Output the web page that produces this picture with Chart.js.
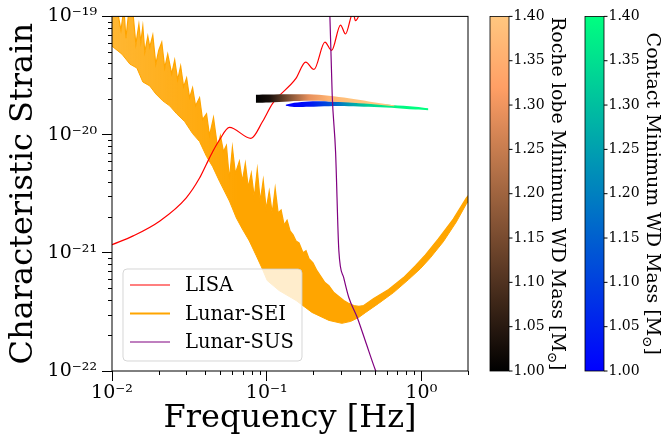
<!DOCTYPE html>
<html>
<head>
<meta charset="utf-8">
<script src="https://cdn.jsdelivr.net/npm/chart.js@4.4.1/dist/chart.umd.min.js"></script>
<style>
  html, body { margin: 0; padding: 0; background: #fff; }
</style>
</head>
<body>
<canvas id="chart" width="662" height="438"></canvas>
<script>
// LISA sensitivity curve
const lisaFreq = [0.0100, 0.0137, 0.0204, 0.0302, 0.0368, 0.0406, 0.0448, 0.0495, 0.0574, 0.0791, 0.0940, 0.1090,
  0.1541, 0.1787, 0.2021, 0.2378, 0.2627, 0.3000, 0.3230, 0.3620, 0.3746, 0.4200];
const lisaStrain = [1.17e-21, 1.39e-21, 1.86e-21, 2.92e-21, 4.29e-21, 5.56e-21, 7.19e-21, 9.0e-21, 1.15e-20, 9.30e-21, 1.29e-20, 1.83e-20,
  2.97e-20, 4.10e-20, 3.56e-20, 6.05e-20, 5.15e-20, 8.45e-20, 7.10e-20, 1.08e-19, 9.20e-20, 1.25e-19];

// Lunar-SEI noisy band: upper (spiky) edge and lower edge
const seiUpFreq = [0.0100, 0.01077, 0.01143, 0.01194, 0.01230, 0.01286, 0.01365, 0.01427, 0.01492, 0.01536,
  0.01582, 0.01630, 0.01704, 0.01755, 0.01835, 0.01919, 0.02006, 0.02097, 0.02192, 0.02292,
  0.02431, 0.02542, 0.02657, 0.02778, 0.02904, 0.03036, 0.03174, 0.03318, 0.03469, 0.03681,
  0.03848, 0.04083, 0.04268, 0.04529, 0.04805, 0.05023, 0.05252, 0.05490, 0.05740, 0.06000,
  0.06272, 0.06655, 0.06956, 0.07273, 0.07603, 0.07948, 0.08310, 0.08688, 0.09083, 0.09495,
  0.09926, 0.1038, 0.1085, 0.1134, 0.1186, 0.1239, 0.1296, 0.1354, 0.1416, 0.1481,
  0.1548, 0.1618, 0.1717, 0.1795, 0.1877, 0.1991, 0.2113, 0.2242, 0.2378, 0.2523,
  0.2718, 0.2926, 0.3151, 0.3393, 0.3653, 0.3935, 0.4236, 0.4914, 0.6135, 0.7662,
  0.9151, 1.061, 1.286, 1.606, 1.948, 2.160];
const seiUpStrain = [1.12e-19, 1.17e-19, 7.62e-20, 1.17e-19, 6.53e-20, 1.12e-19, 1.08e-19, 5.82e-20, 8.57e-20, 6.05e-20,
  8.24e-20, 4.98e-20, 6.79e-20, 5.49e-20, 6.92e-20, 3.95e-20, 5.18e-20, 6.05e-20, 3.66e-20, 4.79e-20,
  3.26e-20, 4.27e-20, 2.90e-20, 3.80e-20, 2.53e-20, 3.01e-20, 2.05e-20, 2.48e-20, 1.75e-20, 2.05e-20,
  1.34e-20, 1.50e-20, 9.81e-21, 1.39e-20, 7.93e-21, 9.81e-21, 7.19e-21, 8.08e-21, 4.19e-21, 7.78e-21,
  4.70e-21, 5.93e-21, 4.03e-21, 5.70e-21, 3.58e-21, 4.70e-21, 2.95e-21, 5.08e-21, 2.74e-21, 4.11e-21,
  2.34e-21, 3.32e-21, 2.17e-21, 3.52e-21, 2.17e-21, 2.30e-21, 1.72e-21, 1.89e-21, 1.53e-21, 1.42e-21,
  1.26e-21, 1.21e-21, 1.00e-21, 1.04e-21, 8.91e-22, 8.24e-22, 7.06e-22, 6.29e-22, 5.60e-22, 5.28e-22,
  4.61e-22, 4.27e-22, 3.95e-22, 3.73e-22, 3.58e-22, 3.52e-22, 3.58e-22, 4.11e-22, 4.89e-22, 6.17e-22,
  7.78e-22, 9.62e-22, 1.31e-21, 1.93e-21, 2.90e-21, 3.45e-21];
const seiLowFreq = [0.0100, 0.01160, 0.01305, 0.01448, 0.01582, 0.01755, 0.01919, 0.02128, 0.02360, 0.02618,
  0.02948, 0.03318, 0.03681, 0.04083, 0.04463, 0.04950, 0.05740, 0.06365, 0.06956, 0.07717,
  0.08561, 0.09357, 0.1008, 0.1203, 0.1548, 0.1962, 0.2523, 0.3059, 0.3495, 0.3935,
  0.4364, 0.5291, 0.6606, 0.8249, 0.9854, 1.143, 1.385, 1.680, 1.948, 2.160];
const seiLowStrain = [5.60e-20, 4.79e-20, 3.95e-20, 3.66e-20, 2.79e-20, 2.58e-20, 2.21e-20, 1.93e-20, 1.75e-20, 1.50e-20,
  1.29e-20, 1.02e-20, 8.73e-21, 6.53e-21, 5.38e-21, 4.03e-21, 2.74e-21, 1.97e-21, 1.59e-21, 1.26e-21,
  9.44e-22, 7.34e-22, 5.82e-22, 4.79e-22, 3.95e-22, 3.13e-22, 2.68e-22, 2.53e-22, 2.63e-22, 2.84e-22,
  3.13e-22, 3.73e-22, 4.61e-22, 5.93e-22, 7.34e-22, 9.08e-22, 1.24e-21, 1.82e-21, 2.58e-21, 3.07e-21];

// Lunar-SUS curve
const susFreq = [0.2540, 0.2561, 0.2650, 0.2786, 0.2926, 0.3151, 0.3393, 0.3837, 0.4325, 0.5039, 0.5290];
const susStrain = [1.15e-19, 1.00e-19, 2.16e-20, 7.19e-21, 1.04e-21, 6.10e-22, 4.19e-22, 2.86e-22, 1.82e-22, 1.02e-22, 8.73e-23];

// Roche lobe systems (copper colour scale)
const rocheFreq = [0.0850, 0.1038, 0.1395, 0.1877, 0.2523, 0.3393, 0.4562, 0.6135, 0.6706];
const rocheTop = [2.17e-20, 2.18e-20, 2.19e-20, 2.19e-20, 2.13e-20, 2.03e-20, 1.91e-20, 1.80e-20, 1.77e-20];
const rocheBottom = [1.86e-20, 1.87e-20, 1.91e-20, 1.93e-20, 1.91e-20, 1.87e-20, 1.82e-20, 1.75e-20, 1.74e-20];
const rocheMass = [1.00, 1.03, 1.16, 1.29, 1.36, 1.39, 1.40, 1.40, 1.40];

// Contact systems (winter colour scale)
const contactFreq = [0.1325, 0.1503, 0.1877, 0.2523, 0.3393, 0.4562, 0.6414, 0.9151, 1.109];
const contactTop = [1.79e-20, 1.86e-20, 1.91e-20, 1.91e-20, 1.89e-20, 1.84e-20, 1.78e-20, 1.72e-20, 1.67e-20];
const contactBottom = [1.75e-20, 1.71e-20, 1.72e-20, 1.74e-20, 1.74e-20, 1.72e-20, 1.69e-20, 1.63e-20, 1.61e-20];
const contactMass = [1.00, 1.00, 1.03, 1.12, 1.24, 1.33, 1.38, 1.40, 1.40];

// colour bar ticks
const massTicks = [1.00, 1.05, 1.10, 1.15, 1.20, 1.25, 1.30, 1.35, 1.40];

const SERIF = 'DejaVu Serif';
Chart.defaults.font.family = SERIF;
Chart.defaults.color = '#000';

const pts = (xs, ys) => xs.map((x, i) => ({ x, y: ys[i] }));

const copper = t => `rgb(${Math.round(255 * Math.min(1, 1.25 * t))},${Math.round(255 * 0.7812 * t)},${Math.round(255 * 0.4975 * t)})`;
const winter = t => `rgb(0,${Math.round(255 * t)},${Math.round(255 * (1 - 0.5 * t))})`;
const massMin = massTicks[0], massMax = massTicks[massTicks.length - 1];

function massGradient(freqs, masses, cmap) {
  return (ctx) => {
    const chart = ctx.chart;
    const xs = chart.scales.x;
    if (!chart.chartArea || !xs) return cmap(1);
    const x0 = xs.getPixelForValue(freqs[0]);
    const x1 = xs.getPixelForValue(freqs[freqs.length - 1]);
    const g = chart.ctx.createLinearGradient(x0, 0, x1, 0);
    freqs.forEach((f, i) => {
      g.addColorStop((xs.getPixelForValue(f) - x0) / (x1 - x0), cmap((masses[i] - massMin) / (massMax - massMin)));
    });
    return g;
  };
}

// the noisy low-frequency part of the SEI band is drawn a bit lighter
function seiFill(ctx) {
  const chart = ctx.chart;
  const xs = chart.scales.x;
  if (!chart.chartArea || !xs) return 'orange';
  const g = chart.ctx.createLinearGradient(xs.getPixelForValue(0.01), 0, xs.getPixelForValue(0.065), 0);
  g.addColorStop(0, 'rgba(255,165,0,0.8)');
  g.addColorStop(1, 'rgba(255,165,0,1)');
  return g;
}

const sup = { '-': '\u207B', '0': '\u2070', '1': '\u00B9', '2': '\u00B2', '3': '\u00B3', '4': '\u2074',
  '5': '\u2075', '6': '\u2076', '7': '\u2077', '8': '\u2078', '9': '\u2079' };
function isDecade(v) {
  const l = Math.log10(v);
  return Math.abs(l - Math.round(l)) < 1e-6;
}
function powLabel(v) {
  if (!isDecade(v)) return '';
  return '10' + String(Math.round(Math.log10(v))).split('').map(c => sup[c]).join('');
}
function keepIntegerTicks(scale) {
  const seen = new Set();
  scale.ticks = scale.ticks.filter(t => {
    const p = Math.floor(Math.log10(t.value) + 1e-9);
    const m = t.value / Math.pow(10, p);
    const key = Math.log10(t.value).toFixed(5);
    if (Math.abs(m - Math.round(m)) > 1e-6 || seen.has(key)) return false;
    seen.add(key);
    return true;
  });
}

function logAxis(pos, min, max, title, fit) {
  return {
    type: 'logarithmic',
    position: pos,
    min, max,
    afterBuildTicks: keepIntegerTicks,
    afterFit: fit,
    border: { display: false },
    grid: {
      display: true, drawOnChartArea: false, drawTicks: true, tickLength: 10, tickWidth: 1,
      tickColor: c => (c.tick && isDecade(c.tick.value)) ? '#000' : 'rgba(0,0,0,0)'
    },
    ticks: {
      autoSkip: false, maxRotation: 0, minRotation: 0, padding: pos === 'left' ? 5 : 1,
      font: { family: SERIF, size: 19 }, color: '#000',
      callback: v => powLabel(v)
    },
    title: {
      display: true, text: title, color: '#000',
      font: { family: SERIF, size: 32 },
      padding: pos === 'left' ? { top: 4, bottom: 0 } : { top: 0, bottom: 0 }
    }
  };
}

const decorPlugin = {
  id: 'decor',
  afterDatasetsDraw(chart) {
    const { ctx, chartArea: a } = chart;
    ctx.save();
    // minor ticks
    ctx.strokeStyle = '#000';
    ctx.lineWidth = 1;
    const xs = chart.scales.x, ys = chart.scales.y;
    ctx.beginPath();
    xs.ticks.forEach(t => {
      if (isDecade(t.value)) return;
      const px = Math.round(xs.getPixelForValue(t.value)) + 0.5;
      ctx.moveTo(px, a.bottom); ctx.lineTo(px, a.bottom + 4);
    });
    ys.ticks.forEach(t => {
      if (isDecade(t.value)) return;
      const py = Math.round(ys.getPixelForValue(t.value)) + 0.5;
      ctx.moveTo(a.left, py); ctx.lineTo(a.left - 4, py);
    });
    ctx.stroke();
    // frame
    ctx.strokeRect(a.left, a.top, a.right - a.left, a.bottom - a.top);

    // legend inside the plot
    const items = chart.data.datasets.filter(d => d.label);
    const bx = a.left + 11, by = a.bottom - 102, bw = 179, bh = 92, r = 4;
    ctx.beginPath();
    ctx.moveTo(bx + r, by);
    ctx.lineTo(bx + bw - r, by); ctx.arcTo(bx + bw, by, bx + bw, by + r, r);
    ctx.lineTo(bx + bw, by + bh - r); ctx.arcTo(bx + bw, by + bh, bx + bw - r, by + bh, r);
    ctx.lineTo(bx + r, by + bh); ctx.arcTo(bx, by + bh, bx, by + bh - r, r);
    ctx.lineTo(bx, by + r); ctx.arcTo(bx, by, bx + r, by, r);
    ctx.closePath();
    ctx.fillStyle = 'rgba(255,255,255,0.8)';
    ctx.fill();
    ctx.strokeStyle = 'rgba(204,204,204,0.8)';
    ctx.lineWidth = 1;
    ctx.stroke();
    ctx.font = `19.5px "${SERIF}"`;
    ctx.textBaseline = 'middle';
    items.forEach((d, i) => {
      const yy = by + 16 + i * 28.5;
      ctx.strokeStyle = d.borderColor;
      ctx.lineWidth = d.legendWidth;
      ctx.beginPath();
      ctx.moveTo(bx + 7, yy); ctx.lineTo(bx + 47, yy);
      ctx.stroke();
      ctx.fillStyle = '#000';
      ctx.fillText(d.label, bx + 62, yy + 1);
    });
    ctx.restore();
  },
  afterDraw(chart) {
    const { ctx, chartArea: a } = chart;
    const bars = [
      { x: a.right + 22, w: 19, cmap: copper, text: 'Roche lobe Minimum WD Mass [M', labelX: a.right + 83.5 },
      { x: a.right + 117, w: 19, cmap: winter, text: 'Contact Minimum WD Mass [M', labelX: a.right + 179 }
    ];
    const top = a.top, bottom = a.bottom, hgt = bottom - top;
    ctx.save();
    bars.forEach(b => {
      const g = ctx.createLinearGradient(0, bottom, 0, top);
      for (let k = 0; k <= 20; k++) g.addColorStop(k / 20, b.cmap(k / 20));
      ctx.fillStyle = g;
      ctx.fillRect(b.x, top, b.w, hgt);
      ctx.strokeStyle = '#000';
      ctx.lineWidth = 0.8;
      ctx.strokeRect(b.x, top, b.w, hgt);
      ctx.font = `14px "${SERIF}"`;
      ctx.fillStyle = '#000';
      ctx.textBaseline = 'middle';
      ctx.textAlign = 'left';
      ctx.beginPath();
      massTicks.forEach(m => {
        const py = bottom - (m - massMin) / (massMax - massMin) * hgt;
        ctx.moveTo(b.x + b.w, py); ctx.lineTo(b.x + b.w + 3.5, py);
        ctx.fillText(m.toFixed(2), b.x + b.w + 4.5, py);
      });
      ctx.lineWidth = 1;
      ctx.stroke();
      // rotated label with subscript sun symbol
      const fs = 19;
      ctx.save();
      ctx.translate(b.labelX, (top + bottom) / 2);
      ctx.rotate(Math.PI / 2);
      ctx.textBaseline = 'alphabetic';
      ctx.font = `${fs}px "${SERIF}"`;
      const w1 = ctx.measureText(b.text).width;
      const w3 = ctx.measureText(']').width;
      ctx.font = `${fs * 0.7}px "${SERIF}"`;
      const w2 = ctx.measureText('\u2299').width;
      let x = -(w1 + w2 + w3) / 2;
      ctx.font = `${fs}px "${SERIF}"`;
      ctx.fillText(b.text, x, 0);
      x += w1;
      ctx.font = `${fs * 0.7}px "${SERIF}"`;
      ctx.fillText('\u2299', x, fs * 0.2);
      x += w2;
      ctx.font = `${fs}px "${SERIF}"`;
      ctx.fillText(']', x, 0);
      ctx.restore();
    });
    ctx.restore();
  }
};

new Chart(document.getElementById('chart'), {
  type: 'scatter',
  data: {
    datasets: [
      { label: 'LISA', data: pts(lisaFreq, lisaStrain), showLine: true, borderColor: 'red', borderWidth: 1.2,
        legendWidth: 1.2, pointRadius: 0, cubicInterpolationMode: 'monotone', fill: false, order: 4, clip: 0 },
      // SEI band: upper edge filled down to the axis, lower edge masks below itself with white
      { label: 'Lunar-SEI', data: pts(seiUpFreq, seiUpStrain), showLine: true, borderColor: 'orange', borderWidth: 1.2,
        legendWidth: 2, pointRadius: 0, tension: 0, fill: 'start', backgroundColor: seiFill, order: 6, clip: 0 },
      { data: pts(seiLowFreq, seiLowStrain), showLine: true, borderColor: 'orange', borderWidth: 1,
        pointRadius: 0, tension: 0, fill: 'start', backgroundColor: '#ffffff', order: 5.5, clip: 0 },
      { data: pts(contactFreq, contactTop), showLine: true, borderWidth: 0, pointRadius: 0, tension: 0.3,
        fill: '+1', backgroundColor: massGradient(contactFreq, contactMass, winter), order: 3, clip: 0 },
      { data: pts(contactFreq, contactBottom), showLine: true, borderWidth: 0, pointRadius: 0, tension: 0.3,
        fill: false, order: 3, clip: 0 },
      { data: pts(rocheFreq, rocheTop), showLine: true, borderWidth: 0, pointRadius: 0, tension: 0.3,
        fill: '+1', backgroundColor: massGradient(rocheFreq, rocheMass, copper), order: 2, clip: 0 },
      { data: pts(rocheFreq, rocheBottom), showLine: true, borderWidth: 0, pointRadius: 0, tension: 0.3,
        fill: false, order: 2, clip: 0 },
      { label: 'Lunar-SUS', data: pts(susFreq, susStrain), showLine: true, borderColor: 'purple', borderWidth: 1.2,
        legendWidth: 1.2, pointRadius: 0, cubicInterpolationMode: 'monotone', fill: false, order: 1, clip: 0 }
    ]
  },
  options: {
    responsive: false,
    animation: false,
    devicePixelRatio: 1,
    layout: { padding: { left: 0, right: 194, top: 14, bottom: 0 }, autoPadding: false },
    plugins: { legend: { display: false }, tooltip: { enabled: false } },
    scales: {
      x: logAxis('bottom', 0.01, 2, 'Frequency [Hz]', s => { s.height = 67; }),
      y: logAxis('left', 1e-22, 1e-19, 'Characteristic Strain', s => { s.width = 112; })
    }
  },
  plugins: [decorPlugin]
});
</script>
</body>
</html>
